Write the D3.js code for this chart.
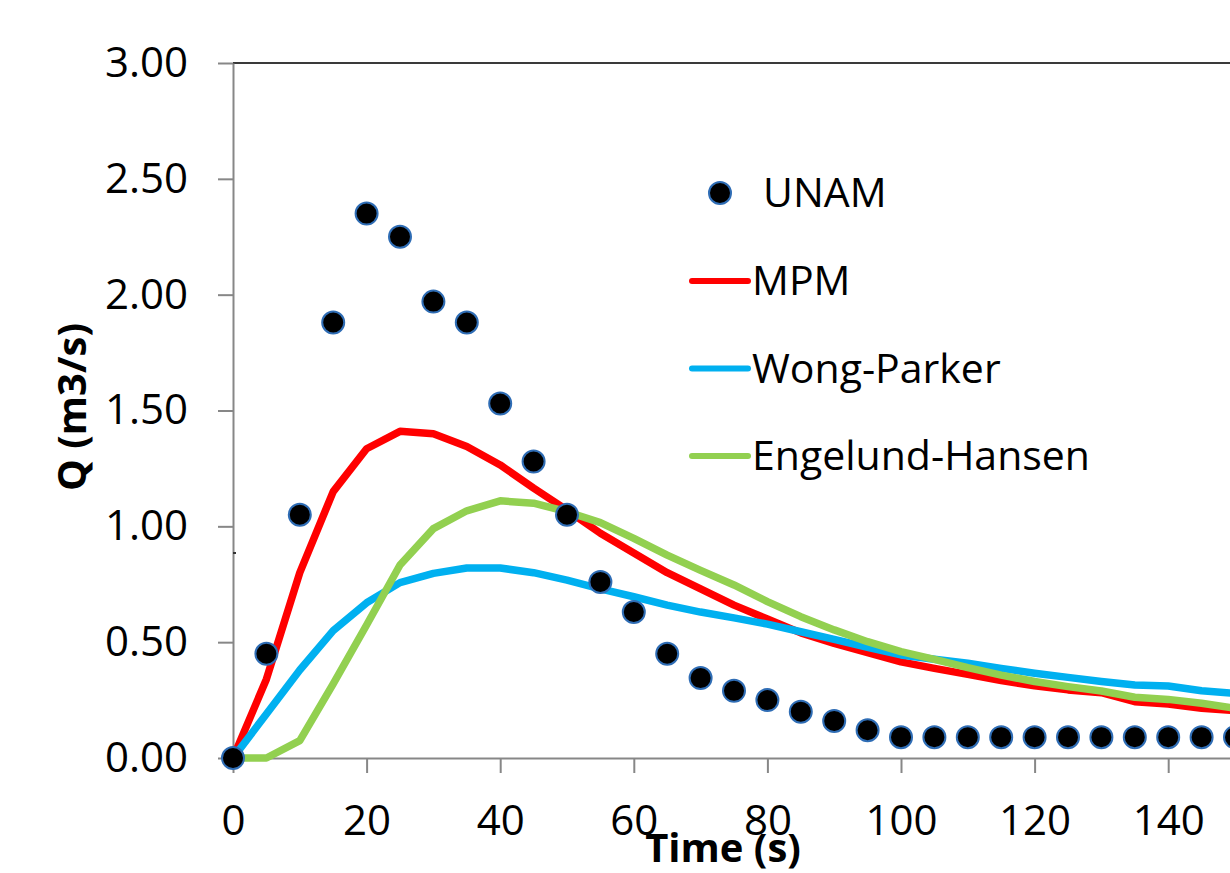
<!DOCTYPE html>
<html>
<head>
<meta charset="utf-8">
<script src="https://cdn.jsdelivr.net/npm/d3@7"></script>
<style>
	body { margin: 0; background: #fff; }
	svg { display: block; font-family: "Open Sans", sans-serif; }
</style>
</head>
<body>
<svg id="flow-plot" width="1230" height="873" viewBox="0 0 1230 873"></svg>
<script>

// time steps (s)
const times = [0, 5, 10, 15, 20, 25, 30, 35, 40, 45, 50, 55, 60, 65, 70, 75,
	80, 85, 90, 95, 100, 105, 110, 115, 120, 125, 130, 135, 140, 145, 150];

// measured discharge, m3/s
const unam = [0, 0.45, 1.05, 1.88, 2.35, 2.25, 1.97, 1.88, 1.53, 1.28, 1.05, 0.76, 0.63, 0.45, 0.345, 0.29,
	0.25, 0.20, 0.16, 0.12, 0.09, 0.09, 0.09, 0.09, 0.09, 0.09, 0.09, 0.09, 0.09, 0.09, 0.09];

const mpm = [0, 0.34, 0.80, 1.15, 1.335, 1.41, 1.40, 1.345, 1.265, 1.165, 1.07, 0.97, 0.885, 0.80, 0.73, 0.66,
	0.60, 0.54, 0.495, 0.455, 0.415, 0.387, 0.361, 0.334, 0.312, 0.294, 0.282, 0.243, 0.233, 0.215, 0.204];

const wongParker = [0, 0.19, 0.38, 0.55, 0.67, 0.757, 0.797, 0.82, 0.82, 0.80, 0.768, 0.73, 0.696, 0.66, 0.63, 0.605,
	0.578, 0.545, 0.512, 0.478, 0.445, 0.426, 0.409, 0.387, 0.366, 0.348, 0.33, 0.315, 0.311, 0.29, 0.279];

const engelundHansen = [0, 0, 0.075, 0.32, 0.574, 0.833, 0.99, 1.067, 1.11, 1.10, 1.063, 1.016, 0.948, 0.876, 0.81, 0.747,
	0.675, 0.61, 0.553, 0.502, 0.459, 0.426, 0.39, 0.358, 0.33, 0.308, 0.289, 0.262, 0.253, 0.236, 0.215];

const yTicks = [0, 0.5, 1.0, 1.5, 2.0, 2.5, 3.0];
const xTicks = [0, 20, 40, 60, 80, 100, 120, 140];

const lineSeries = [
	{ name: "MPM", values: mpm, color: "#ff0000" },
	{ name: "Wong-Parker", values: wongParker, color: "#00b0f0" },
	{ name: "Engelund-Hansen", values: engelundHansen, color: "#92d050" }
];

class FlowPlot {

	constructor(svg_element_id) {
		this.svg = d3.select('#' + svg_element_id);

		const x = d3.scaleLinear().domain([0, 150]).range([233, 1235]);
		const y = d3.scaleLinear().domain([0, 3]).range([758, 63]);
		const axisGray = "#878787";

		// top edge of plot area
		this.svg.append("line")
			.attr("x1", x(0)).attr("x2", x(150))
			.attr("y1", y(3)).attr("y2", y(3))
			.attr("stroke", "#3a3a3a").attr("stroke-width", 2);

		const yAxis = this.svg.append("g")
			.attr("transform", `translate(${x(0)},0)`)
			.call(d3.axisLeft(y).tickValues(yTicks).tickFormat(d3.format(".2f"))
				.tickSize(15).tickSizeOuter(0).tickPadding(30));

		const xAxis = this.svg.append("g")
			.attr("transform", `translate(0,${y(0)})`)
			.call(d3.axisBottom(x).tickValues(xTicks)
				.tickSize(15).tickSizeOuter(0).tickPadding(32));

		[yAxis, xAxis].forEach(g => {
			g.selectAll(".domain, .tick line").attr("stroke", axisGray).attr("stroke-width", 2);
			g.selectAll(".tick text")
				.attr("fill", "#000")
				.style("font-size", "42px")
				.style("font-family", "'Open Sans', sans-serif");
		});

		// little stray notch on the y axis
		this.svg.append("line")
			.attr("x1", x(0)).attr("x2", x(0) + 3)
			.attr("y1", 553).attr("y2", 553)
			.attr("stroke", "#333").attr("stroke-width", 2);

		// axis titles
		this.svg.append("text")
			.attr("transform", "translate(86,407) rotate(-90)")
			.attr("text-anchor", "middle")
			.style("font-size", "40px")
			.style("font-weight", "bold")
			.text("Q (m3/s)");

		this.svg.append("text")
			.attr("x", 723).attr("y", 862)
			.attr("text-anchor", "middle")
			.style("font-size", "40px")
			.style("font-weight", "bold")
			.text("Time (s)");

		// model curves
		const line = d3.line()
			.x((d, i) => x(times[i]))
			.y(d => y(d));

		this.svg.selectAll("path.series")
			.data(lineSeries)
			.enter()
			.append("path")
			.attr("class", "series")
			.attr("d", d => line(d.values))
			.attr("fill", "none")
			.attr("stroke", d => d.color)
			.attr("stroke-width", 7.5)
			.attr("stroke-linejoin", "round");

		// measured points
		this.svg.selectAll("circle.unam")
			.data(unam)
			.enter()
			.append("circle")
			.attr("class", "unam")
			.attr("cx", (d, i) => x(times[i]))
			.attr("cy", d => y(d))
			.attr("r", 11)
			.attr("fill", "#000")
			.attr("stroke", "#2f6db5")
			.attr("stroke-width", 2);

		// legend
		const legend = this.svg.append("g");
		legend.append("circle")
			.attr("cx", 720).attr("cy", 193).attr("r", 11)
			.attr("fill", "#000").attr("stroke", "#2f6db5").attr("stroke-width", 2);
		legend.append("text")
			.attr("x", 763).attr("y", 193).attr("dy", "0.35em")
			.style("font-size", "41px")
			.text("UNAM");

		const rows = legend.selectAll("g.row")
			.data(lineSeries)
			.enter()
			.append("g")
			.attr("class", "row")
			.attr("transform", (d, i) => `translate(0,${281 + i * 87.5})`);
		rows.append("line")
			.attr("x1", 692).attr("x2", 748)
			.attr("stroke", d => d.color)
			.attr("stroke-width", 6)
			.attr("stroke-linecap", "round");
		rows.append("text")
			.attr("x", 752).attr("dy", "0.35em")
			.style("font-size", "41px")
			.text(d => d.name);
	}

}


function whenDocumentLoaded(action) {
	if (document.readyState === "loading") {
		document.addEventListener("DOMContentLoaded", action);
	} else {
		action();
	}
}

whenDocumentLoaded(() => {
	plot_object = new FlowPlot('flow-plot');
});
</script>
</body>
</html>
